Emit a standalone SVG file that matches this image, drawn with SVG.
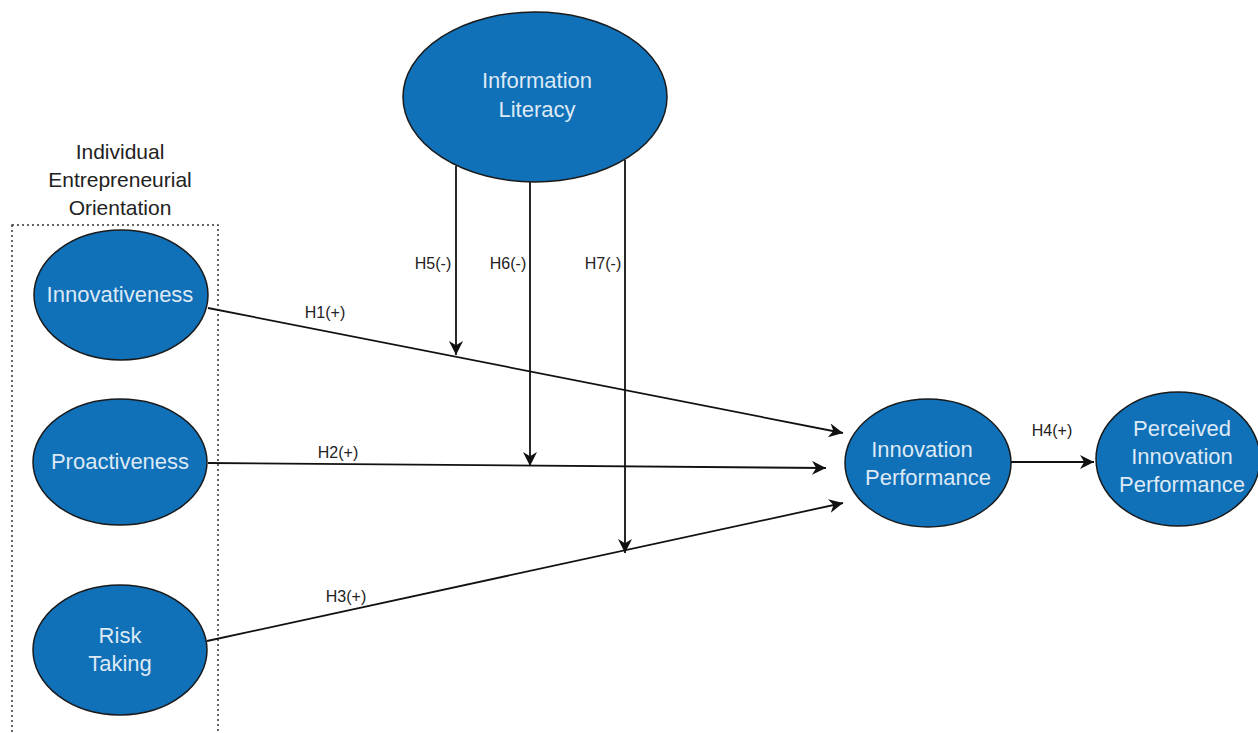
<svg xmlns="http://www.w3.org/2000/svg" width="1258" height="733" viewBox="0 0 1258 733">
<style>
.node{fill:#1070b8;stroke:#1a1a1a;stroke-width:1.5}
.nt{font-family:"Liberation Sans",Arial,sans-serif;font-size:22px;fill:#dde9f5;text-anchor:middle}
.lbl{font-family:"Liberation Sans",Arial,sans-serif;font-size:16px;fill:#222;text-anchor:middle}
.ttl{font-family:"Liberation Sans",Arial,sans-serif;font-size:21px;fill:#222;text-anchor:middle}
.edge{stroke:#111;stroke-width:1.8;fill:none;marker-end:url(#ah)}
</style>
<defs>
<marker id="ah" viewBox="0 0 10 10" refX="10" refY="5" markerWidth="14" markerHeight="14" markerUnits="userSpaceOnUse" orient="auto">
<path d="M0,0 L10,5 L0,10 L3,5 z" fill="#111"/>
</marker>
</defs>
<rect width="1258" height="733" fill="#fff"/>
<g id="group-ieo">
<rect x="12" y="225" width="206" height="520" fill="none" stroke="#333" stroke-width="1.5" stroke-dasharray="2,3"/>
<text class="ttl" x="120" y="159">Individual</text>
<text class="ttl" x="120" y="187">Entrepreneurial</text>
<text class="ttl" x="120" y="215">Orientation</text>
</g>
<g id="edges">
<line class="edge" x1="208" y1="308" x2="843" y2="433"/>
<line class="edge" x1="208" y1="463" x2="826" y2="468"/>
<line class="edge" x1="207" y1="641" x2="843" y2="503"/>
<line class="edge" x1="1011" y1="462" x2="1094" y2="462"/>
<line class="edge" x1="456" y1="166" x2="456" y2="355"/>
<line class="edge" x1="530" y1="182" x2="530" y2="466"/>
<line class="edge" x1="625" y1="160" x2="625" y2="553"/>
<text class="lbl" x="325" y="318">H1(+)</text>
<text class="lbl" x="338" y="458">H2(+)</text>
<text class="lbl" x="346" y="602">H3(+)</text>
<text class="lbl" x="1052" y="436">H4(+)</text>
<text class="lbl" x="433" y="269">H5(-)</text>
<text class="lbl" x="508" y="269">H6(-)</text>
<text class="lbl" x="603" y="269">H7(-)</text>
</g>
<g id="info-literacy">
<ellipse class="node" cx="535" cy="97" rx="132" ry="85"/>
<text class="nt" x="537" y="88">Information</text>
<text class="nt" x="537" y="117">Literacy</text>
</g>
<g id="innovativeness">
<ellipse class="node" cx="121" cy="295" rx="87" ry="65"/>
<text class="nt" x="120" y="302">Innovativeness</text>
</g>
<g id="proactiveness">
<ellipse class="node" cx="120" cy="462" rx="87" ry="63"/>
<text class="nt" x="120" y="469">Proactiveness</text>
</g>
<g id="risk-taking">
<ellipse class="node" cx="120" cy="650" rx="87" ry="65"/>
<text class="nt" x="120" y="643">Risk</text>
<text class="nt" x="120" y="671">Taking</text>
</g>
<g id="innovation-performance">
<ellipse class="node" cx="928" cy="463" rx="83" ry="64"/>
<text class="nt" x="922" y="457">Innovation</text>
<text class="nt" x="928" y="485">Performance</text>
</g>
<g id="perceived-innovation-performance">
<ellipse class="node" cx="1178" cy="459" rx="82" ry="67"/>
<text class="nt" x="1182" y="436">Perceived</text>
<text class="nt" x="1182" y="464">Innovation</text>
<text class="nt" x="1182" y="492">Performance</text>
</g>
</svg>
